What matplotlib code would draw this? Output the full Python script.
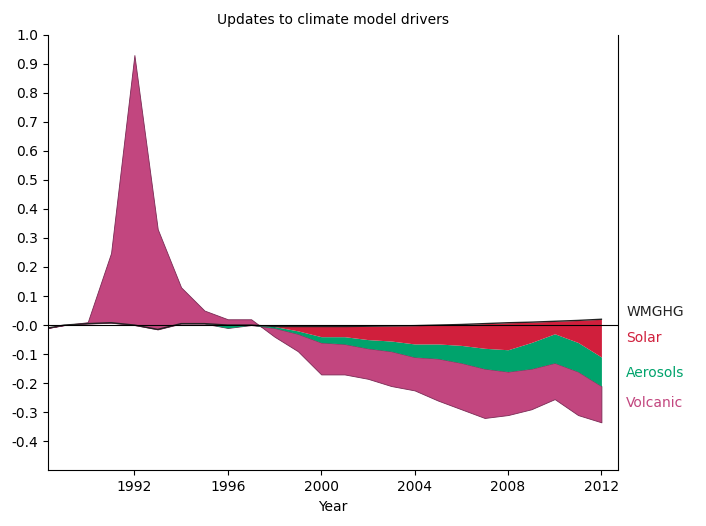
import matplotlib
matplotlib.use("Agg")
import matplotlib.pyplot as plt
import numpy as np

years = [1988.3, 1989, 1990, 1991, 1992, 1993, 1994, 1995, 1996, 1997, 1998, 1999,
         2000, 2001, 2002, 2003, 2004, 2005, 2006, 2007, 2008, 2009, 2010, 2011, 2012]
wmghg = [-0.01, 0.0, 0.005, 0.008, 0.0, -0.015, 0.005, 0.005, 0.0, 0.0, -0.005, -0.005,
         -0.005, -0.005, -0.004, -0.003, -0.002, 0.0, 0.002, 0.005, 0.008, 0.01, 0.013, 0.016, 0.02]
solar = [0.0, 0.0, 0.0, 0.0, 0.0, 0.0, 0.0, 0.0, 0.0, 0.0, 0.0, -0.015,
         -0.035, -0.035, -0.046, -0.052, -0.063, -0.065, -0.072, -0.085, -0.093, -0.07, -0.043, -0.076, -0.13]
aerosols = [0.0, 0.0, 0.0, 0.0, 0.0, 0.0, 0.0, 0.0, -0.01, 0.0, -0.005, -0.01,
            -0.02, -0.025, -0.03, -0.035, -0.045, -0.05, -0.06, -0.07, -0.075, -0.09, -0.1, -0.1, -0.1]
volcanic = [0.0, 0.0, 0.005, 0.24, 0.93, 0.345, 0.125, 0.045, 0.03, 0.02, -0.03, -0.06,
            -0.11, -0.105, -0.105, -0.12, -0.115, -0.145, -0.16, -0.17, -0.15, -0.14, -0.125, -0.15, -0.125]
tick_years = [1992, 1996, 2000, 2004, 2008, 2012]
labels = ["WMGHG", "Solar", "Aerosols", "Volcanic"]
label_y = [0.045, -0.045, -0.165, -0.27]
colors = ["#222222", "#d01f3c", "#00a36c", "#c2467f"]

x = np.array(years)
l0 = np.array(wmghg)
l1 = l0 + np.array(solar)
l2 = l1 + np.array(aerosols)
l3 = l2 + np.array(volcanic)

fig = plt.figure(figsize=(7.06, 5.26), dpi=100)
ax = fig.add_axes([0.068, 0.106, 0.807, 0.828])
ax.fill_between(x, l2, l3, color=colors[3], lw=0.6, ec="#7a2a55")
ax.fill_between(x, l1, l2, color=colors[2], lw=0)
ax.fill_between(x, l0, l1, color=colors[1], lw=0)
ax.plot(x, l0, color=colors[0], lw=1)
ax.axhline(0, color="k", lw=0.8)

ax.set_xlim(1988.3, 2012.7)
ax.set_ylim(-0.5, 1.0)
ax.set_yticks(np.round(np.arange(-0.4, 1.01, 0.1), 1))
ax.set_yticklabels([f"{v:.1f}" for v in np.round(np.arange(-0.4, 1.01, 0.1), 1)])
ax.set_xticks(tick_years)
ax.set_xlabel("Year", fontsize=10)
ax.spines["top"].set_visible(False)
ax.tick_params(labelsize=10)
ax.set_title("Updates to climate model drivers", fontsize=10, pad=8)

for lab, yv, c in zip(labels, label_y, colors):
    ax.text(1.015, (yv + 0.5) / 1.5, lab, transform=ax.transAxes, color=c,
            fontsize=10, va="center", ha="left")

fig.savefig("out.png", dpi=100)
